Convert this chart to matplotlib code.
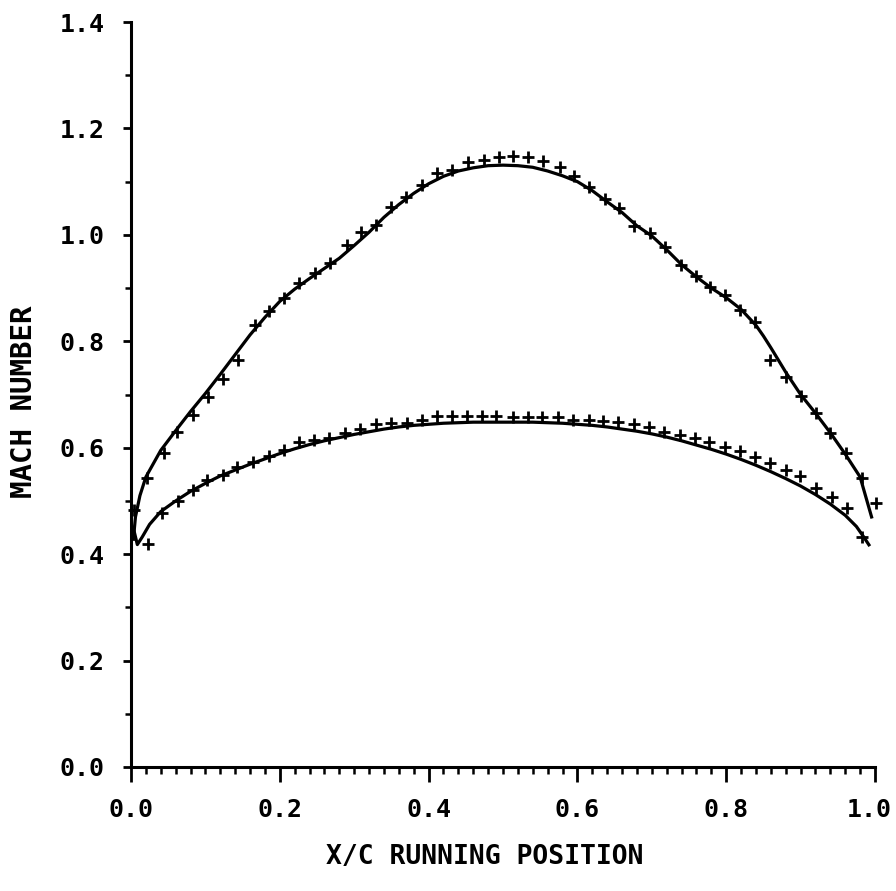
import numpy as np
import matplotlib.pyplot as plt
import matplotlib.transforms as mtransforms
from matplotlib.ticker import MultipleLocator

# ---- computed (solid line) upper surface ----
upper_line_x = [0.003, 0.006, 0.012, 0.02, 0.04, 0.06, 0.08, 0.10, 0.12, 0.14,
                0.16, 0.18, 0.20, 0.22, 0.24, 0.26, 0.28, 0.30, 0.32, 0.34,
                0.36, 0.38, 0.40, 0.42, 0.44, 0.46, 0.48, 0.50, 0.52, 0.54,
                0.56, 0.58, 0.60, 0.62, 0.64, 0.66, 0.68, 0.70, 0.72, 0.74,
                0.76, 0.78, 0.80, 0.82, 0.84, 0.85, 0.86, 0.87, 0.88, 0.90,
                0.92, 0.94, 0.96, 0.98, 0.996]
upper_line_y = [0.425, 0.47, 0.51, 0.545, 0.595, 0.632, 0.668, 0.702, 0.738, 0.775,
                0.812, 0.845, 0.875, 0.898, 0.918, 0.937, 0.956, 0.980, 1.005, 1.033,
                1.057, 1.078, 1.096, 1.110, 1.120, 1.126, 1.130, 1.131, 1.130, 1.127,
                1.120, 1.111, 1.100, 1.083, 1.062, 1.042, 1.017, 0.998, 0.972, 0.944,
                0.921, 0.900, 0.882, 0.860, 0.830, 0.810, 0.788, 0.765, 0.742, 0.700,
                0.665, 0.628, 0.588, 0.545, 0.467]

# ---- computed (solid line) lower surface ----
lower_line_x = [0.003, 0.0085, 0.015, 0.025, 0.04, 0.06, 0.08, 0.10, 0.12, 0.14,
                0.16, 0.18, 0.20, 0.22, 0.24, 0.26, 0.28, 0.30, 0.32, 0.34,
                0.36, 0.38, 0.40, 0.42, 0.44, 0.46, 0.48, 0.50, 0.52, 0.54,
                0.56, 0.58, 0.60, 0.62, 0.64, 0.66, 0.68, 0.70, 0.72, 0.74,
                0.76, 0.78, 0.80, 0.82, 0.84, 0.86, 0.88, 0.90, 0.92, 0.94,
                0.96, 0.975, 0.985, 0.993]
lower_line_y = [0.45, 0.418, 0.432, 0.456, 0.480, 0.500, 0.518, 0.533, 0.547, 0.558,
                0.569, 0.579, 0.589, 0.598, 0.606, 0.613, 0.619, 0.625, 0.630, 0.635,
                0.639, 0.642, 0.644, 0.646, 0.647, 0.648, 0.648, 0.648, 0.648, 0.648,
                0.647, 0.646, 0.644, 0.642, 0.639, 0.635, 0.631, 0.626, 0.620, 0.613,
                0.605, 0.597, 0.588, 0.578, 0.567, 0.555, 0.542, 0.528, 0.512, 0.494,
                0.473, 0.452, 0.432, 0.415]

# ---- measured points (+) upper surface ----
upper_pts_x = [0.004, 0.021, 0.044, 0.062, 0.084, 0.104, 0.124, 0.144, 0.167, 0.185,
               0.206, 0.226, 0.247, 0.267, 0.290, 0.309, 0.329, 0.349, 0.370, 0.391,
               0.411, 0.432, 0.453, 0.474, 0.494, 0.514, 0.534, 0.554, 0.576, 0.595,
               0.616, 0.637, 0.656, 0.676, 0.698, 0.718, 0.739, 0.759, 0.778, 0.798,
               0.819, 0.839, 0.859, 0.880, 0.900, 0.921, 0.940, 0.961, 0.982, 1.002]
upper_pts_y = [0.483, 0.543, 0.590, 0.630, 0.662, 0.696, 0.730, 0.764, 0.831, 0.856,
               0.881, 0.909, 0.928, 0.947, 0.981, 1.006, 1.019, 1.053, 1.071, 1.094,
               1.116, 1.121, 1.137, 1.141, 1.147, 1.148, 1.146, 1.138, 1.128, 1.111,
               1.089, 1.067, 1.050, 1.017, 1.003, 0.978, 0.944, 0.922, 0.902, 0.887,
               0.859, 0.837, 0.765, 0.733, 0.697, 0.665, 0.627, 0.590, 0.543, 0.497]

# ---- measured points (+) lower surface ----
lower_pts_x = [0.023, 0.042, 0.063, 0.084, 0.102, 0.123, 0.143, 0.164, 0.185, 0.205,
               0.226, 0.246, 0.266, 0.287, 0.308, 0.329, 0.349, 0.371, 0.391, 0.411,
               0.431, 0.451, 0.472, 0.491, 0.514, 0.534, 0.553, 0.574, 0.594, 0.615,
               0.635, 0.655, 0.676, 0.696, 0.716, 0.738, 0.758, 0.777, 0.798, 0.818,
               0.839, 0.859, 0.880, 0.899, 0.921, 0.942, 0.962, 0.982]
lower_pts_y = [0.420, 0.477, 0.499, 0.521, 0.539, 0.549, 0.563, 0.574, 0.585, 0.596,
               0.611, 0.615, 0.618, 0.627, 0.636, 0.645, 0.647, 0.647, 0.653, 0.660,
               0.660, 0.660, 0.660, 0.660, 0.658, 0.658, 0.658, 0.658, 0.653, 0.652,
               0.651, 0.649, 0.645, 0.638, 0.630, 0.624, 0.618, 0.611, 0.602, 0.593,
               0.582, 0.572, 0.558, 0.547, 0.524, 0.508, 0.486, 0.433]

x_ticks = [0.0, 0.2, 0.4, 0.6, 0.8, 1.0]
y_ticks = [0.0, 0.2, 0.4, 0.6, 0.8, 1.0, 1.2, 1.4]

FONT = 'DejaVu Sans Mono'

fig = plt.figure(figsize=(8.96, 8.91), dpi=100)
ax = fig.add_axes([131 / 896, 1 - 767 / 891, 744 / 896, 745 / 891])

ax.plot(upper_line_x, upper_line_y, color='black', linewidth=2.3, solid_capstyle='butt')
ax.plot(lower_line_x, lower_line_y, color='black', linewidth=2.3, solid_capstyle='butt')
ax.plot(upper_pts_x, upper_pts_y, linestyle='none', marker='+', color='black',
        markersize=9, markeredgewidth=2.0, clip_on=False)
ax.plot(lower_pts_x, lower_pts_y, linestyle='none', marker='+', color='black',
        markersize=9, markeredgewidth=2.0, clip_on=False)

ax.set_xlim(0, 1.0)
ax.set_ylim(0, 1.4)

ax.spines['top'].set_visible(False)
ax.spines['right'].set_visible(False)
ax.spines['left'].set_linewidth(2.2)
ax.spines['bottom'].set_linewidth(2.2)

ax.set_xticks(x_ticks)
ax.set_xticklabels([f"{v:.1f}" for v in x_ticks])
ax.set_yticks(y_ticks)
ax.set_yticklabels([f"{v:.1f}" for v in y_ticks])
ax.xaxis.set_minor_locator(MultipleLocator(0.02))
ax.yaxis.set_minor_locator(MultipleLocator(0.1))

ax.tick_params(axis='x', which='major', direction='out', length=11, width=2.0, pad=11)
ax.tick_params(axis='x', which='minor', direction='out', length=5, width=1.8)
ax.tick_params(axis='y', which='major', direction='out', length=6, width=2.0, pad=13)
ax.tick_params(axis='y', which='minor', direction='out', length=4, width=1.8)

for lbl in ax.get_xticklabels() + ax.get_yticklabels():
    lbl.set_fontfamily(FONT)
    lbl.set_fontweight('bold')
    lbl.set_fontsize(18)

# nudge the last x label so it stays inside the figure
last = ax.get_xticklabels()[-1]
last.set_transform(last.get_transform() +
                   mtransforms.ScaledTranslation(-4 / 72, 0, fig.dpi_scale_trans))

ax.set_xlabel("X/C RUNNING POSITION", fontfamily=FONT, fontsize=19, fontweight='bold')
ax.set_ylabel("MACH NUMBER", fontfamily=FONT, fontsize=21, fontweight='bold')
ax.xaxis.set_label_coords(0.476, -0.103)
ax.yaxis.set_label_coords(-0.125, 0.49)

fig.savefig('out.png', dpi=100)
